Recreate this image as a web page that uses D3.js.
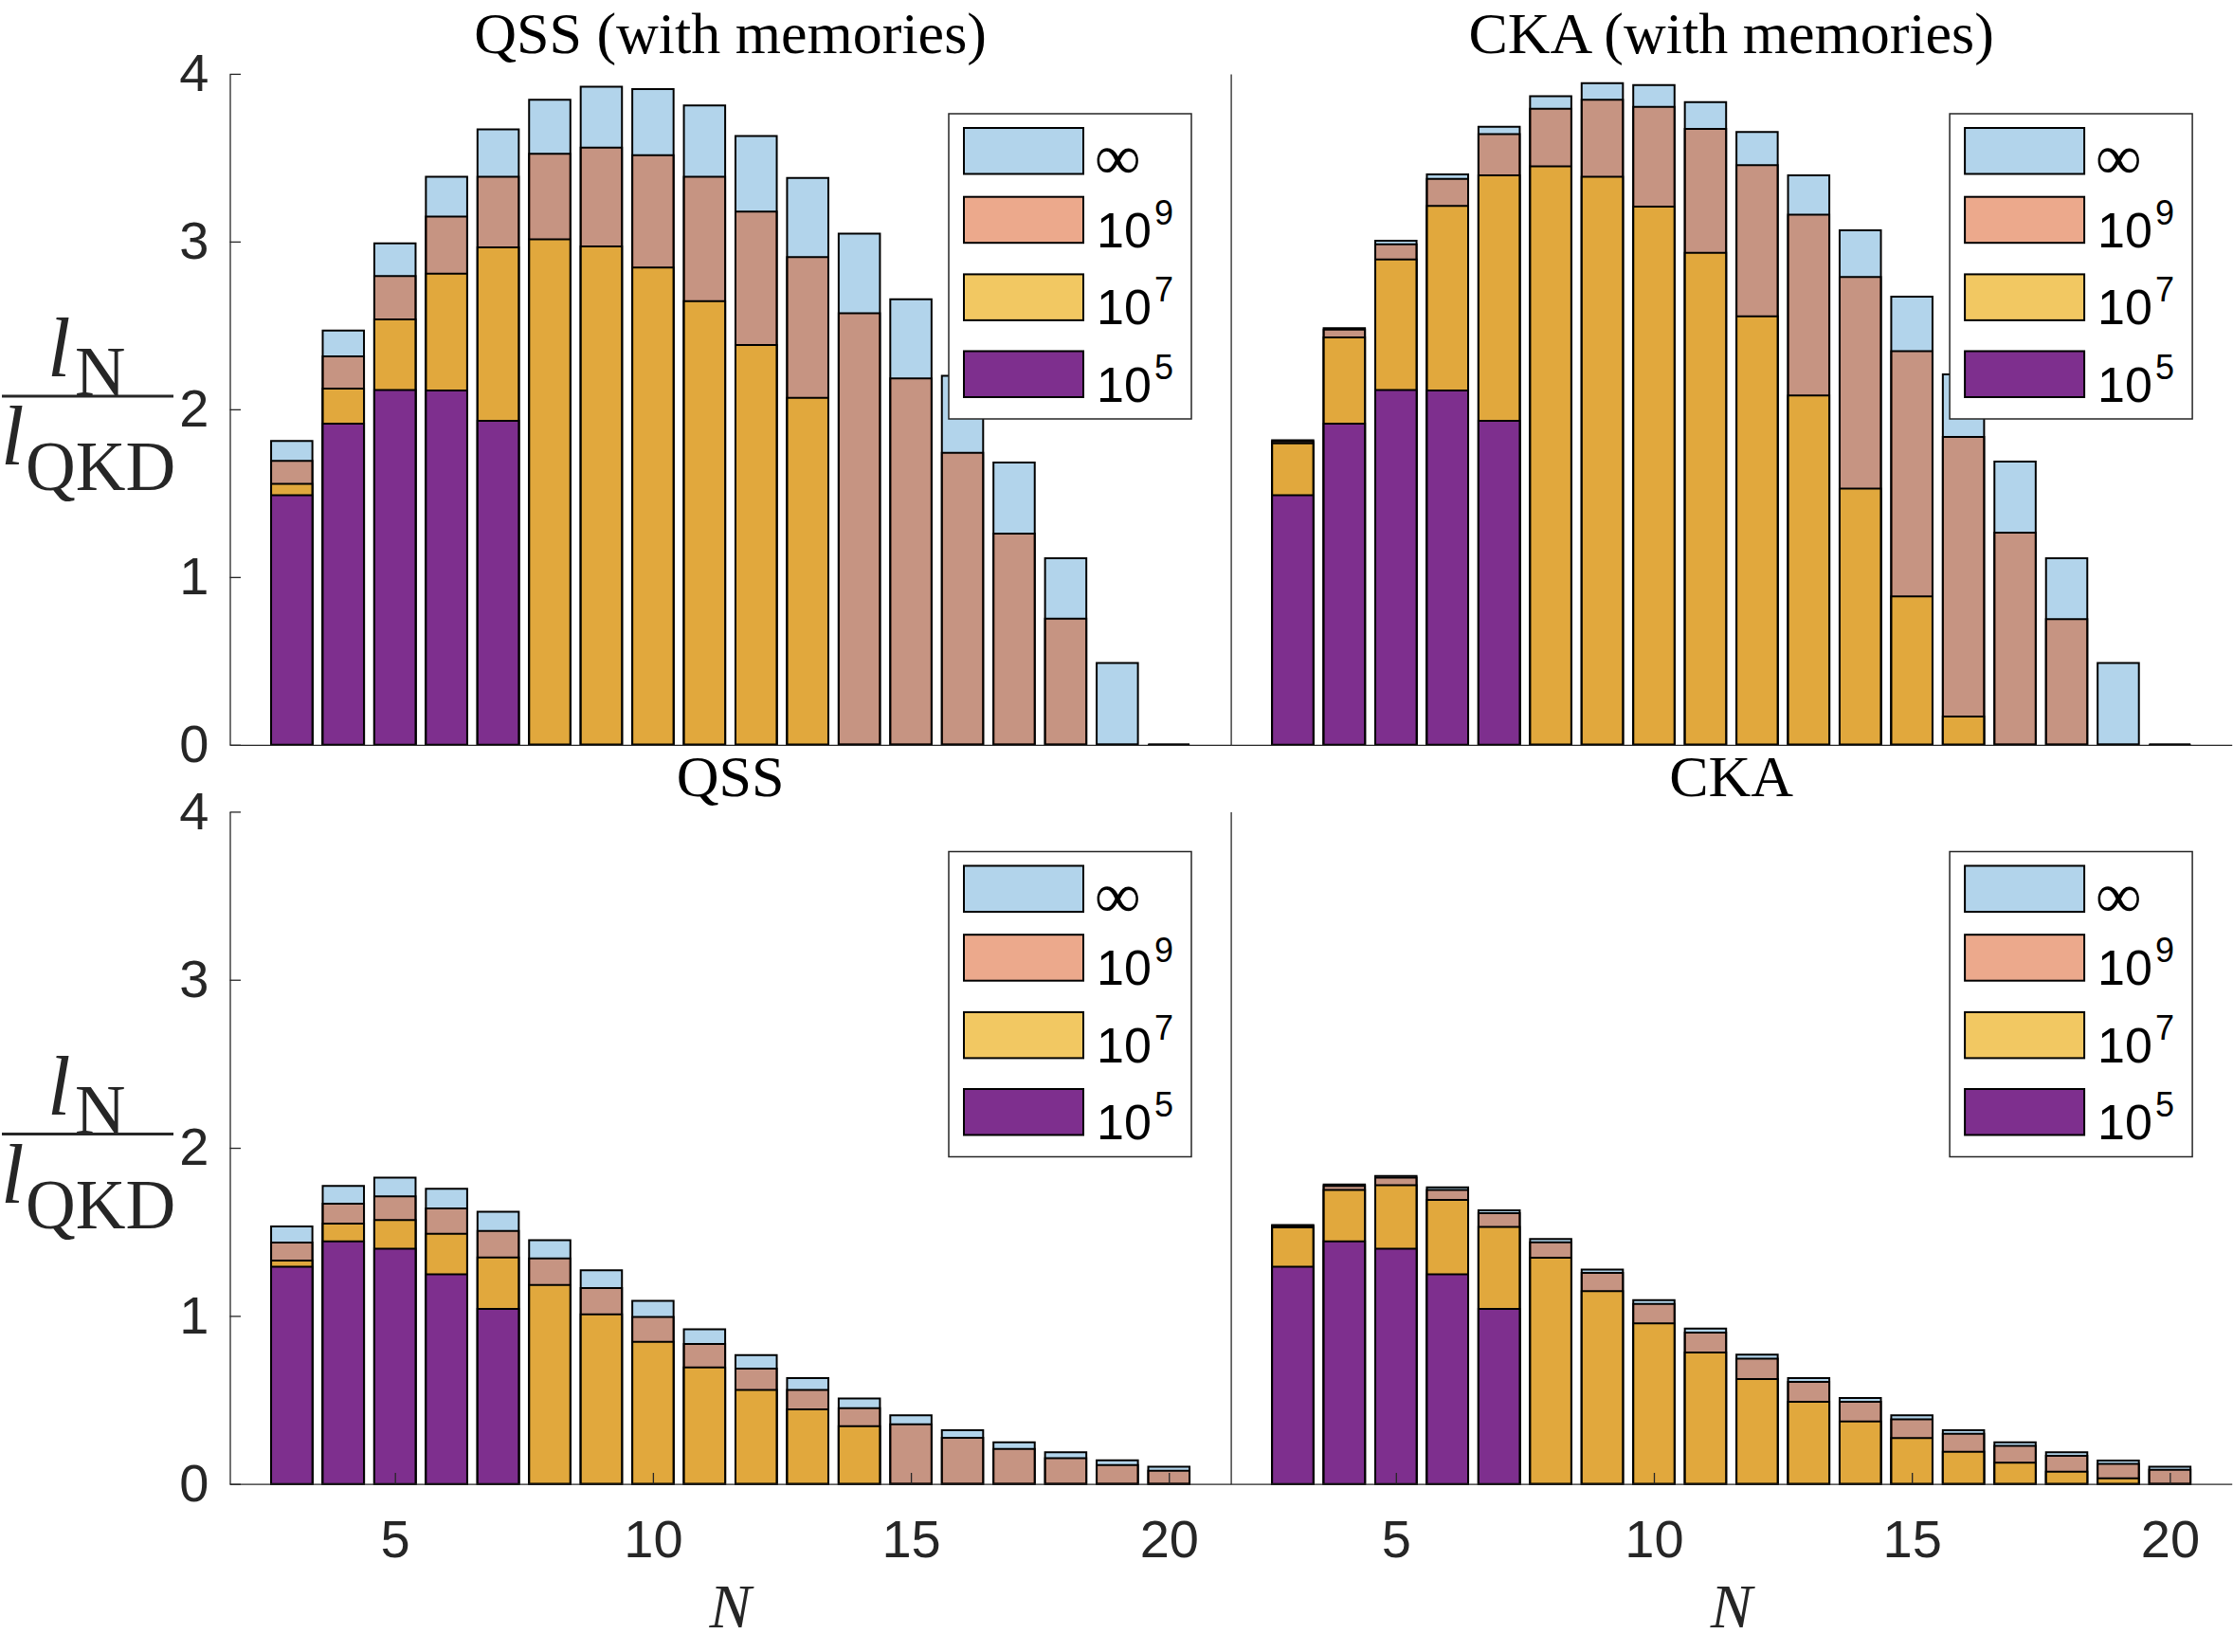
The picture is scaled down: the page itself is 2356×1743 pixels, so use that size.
<!DOCTYPE html>
<html><head><meta charset="utf-8">
<script src="https://cdn.jsdelivr.net/npm/d3@7"></script>
<style>body{margin:0;background:#fff}</style>
</head><body>
<svg id="c" width="2356" height="1743" xmlns="http://www.w3.org/2000/svg"></svg>
<script>
// ---------- data ----------
const nValues = [3,4,5,6,7,8,9,10,11,12,13,14,15,16,17,18,19,20];
const seriesLabels = ["∞", "10^9", "10^7", "10^5"];
const yTicks = [0,1,2,3,4];
const xTicks = [5,10,15,20];
const titles = ["QSS (with memories)", "CKA (with memories)", "QSS", "CKA"];

// QSS (with memories)
const qssMemInf = [1.811,2.469,2.989,3.387,3.669,3.845,3.923,3.909,3.811,3.629,3.379,3.048,2.656,2.200,1.683,1.112,0.488,0];
const qssMem1e9 = [1.693,2.315,2.795,3.149,3.387,3.523,3.560,3.515,3.387,3.179,2.907,2.573,2.184,1.741,1.259,0.752,0,0];
const qssMem1e7 = [1.555,2.123,2.536,2.808,2.965,3.013,2.971,2.845,2.645,2.384,2.069,0,0,0,0,0,0,0];
const qssMem1e5 = [1.488,1.915,2.115,2.112,1.931,0,0,0,0,0,0,0,0,0,0,0,0,0];
// CKA (with memories)
const ckaMemInf = [1.816,2.483,3.005,3.400,3.685,3.867,3.944,3.933,3.832,3.653,3.395,3.067,2.672,2.208,1.688,1.112,0.488,0];
const ckaMem1e9 = [1.808,2.475,2.984,3.373,3.640,3.792,3.845,3.803,3.672,3.456,3.160,2.789,2.347,1.835,1.264,0.749,0,0];
const ckaMem1e7 = [1.797,2.429,2.893,3.213,3.395,3.448,3.387,3.208,2.933,2.555,2.083,1.528,0.885,0.168,0,0,0,0];
const ckaMem1e5 = [1.488,1.915,2.115,2.112,1.931,0,0,0,0,0,0,0,0,0,0,0,0,0];
// QSS
const qssInf = [1.532,1.773,1.823,1.756,1.620,1.451,1.271,1.090,0.921,0.767,0.630,0.509,0.408,0.320,0.248,0.188,0.141,0.102];
const qss1e9 = [1.436,1.667,1.711,1.639,1.506,1.342,1.165,0.994,0.833,0.687,0.560,0.451,0.355,0.274,0.209,0.154,0.113,0.079];
const qss1e7 = [1.329,1.549,1.570,1.489,1.348,1.184,1.009,0.846,0.694,0.560,0.444,0.344,0,0,0,0,0,0];
const qss1e5 = [1.293,1.444,1.400,1.248,1.041,0,0,0,0,0,0,0,0,0,0,0,0,0];
// CKA
const ckaInf = [1.541,1.782,1.833,1.765,1.628,1.457,1.276,1.094,0.925,0.769,0.630,0.511,0.408,0.320,0.248,0.188,0.139,0.102];
const cka1e9 = [1.536,1.773,1.823,1.750,1.611,1.438,1.256,1.071,0.900,0.746,0.607,0.489,0.385,0.299,0.226,0.167,0.120,0.085];
const cka1e7 = [1.526,1.750,1.778,1.690,1.530,1.346,1.148,0.955,0.782,0.624,0.489,0.372,0.273,0.192,0.126,0.073,0.034,0];
const cka1e5 = [1.293,1.444,1.400,1.248,1.041,0,0,0,0,0,0,0,0,0,0,0,0,0];

// ---------- styles ----------
const baseColors = ["rgb(0,114,189)", "rgb(217,83,25)", "rgb(237,177,32)", "rgb(126,47,142)"];
const alphas = [0.3, 0.5, 0.7, 1.0];
const axisColor = "#262626";

const svg = d3.select("#c");

const panels = [
  {x0:242.5, x1:1298.6, yb:785.8, yt:77.9, left:true,  bottom:false, titleY:56,  title:titles[0], series:[qssMemInf,qssMem1e9,qssMem1e7,qssMem1e5]},
  {x0:1298.6, x1:2354.7, yb:785.8, yt:77.9, left:false, bottom:false, titleY:56,  title:titles[1], series:[ckaMemInf,ckaMem1e9,ckaMem1e7,ckaMem1e5]},
  {x0:242.5, x1:1298.6, yb:1565.7, yt:856.4, left:true,  bottom:true, titleY:840, title:titles[2], series:[qssInf,qss1e9,qss1e7,qss1e5]},
  {x0:1298.6, x1:2354.7, yb:1565.7, yt:856.4, left:false, bottom:true, titleY:840, title:titles[3], series:[ckaInf,cka1e9,cka1e7,cka1e5]}
];

function styleAxis(g) {
  g.attr("font-family", "'Liberation Sans', Arial, Helvetica, sans-serif").attr("font-size", 56);
  g.selectAll(".domain").attr("stroke", axisColor).attr("stroke-width", 1.3);
  g.selectAll(".tick line").attr("stroke", axisColor).attr("stroke-width", 1.3);
  g.selectAll(".tick text").attr("fill", axisColor);
}

panels.forEach(p => {
  const x = d3.scaleLinear().domain([1.8, 21.2]).range([p.x0, p.x1]);
  const y = d3.scaleLinear().domain([0, 4]).range([p.yb, p.yt]);
  const g = svg.append("g");
  const half = 0.4;

  p.series.forEach((vals, si) => {
    g.append("g").selectAll("path")
      .data(nValues.map((n, i) => ({n, v: vals[i]})))
      .join("path")
      .attr("d", d => {
        const xl = x(d.n - half), xr = x(d.n + half), y0 = y(0), y1 = y(d.v);
        return `M${xl},${y0}V${y1}H${xr}V${y0}Z`;
      })
      .attr("fill", baseColors[si])
      .attr("fill-opacity", alphas[si])
      .attr("stroke", "#000")
      .attr("stroke-width", 2);
  });

  // axes
  const yAxis = p.left
    ? d3.axisLeft(y).tickValues(yTicks).tickSize(-11.5).tickSizeOuter(0).tickPadding(22).tickFormat(d3.format("d"))
    : d3.axisLeft(y).tickValues([]).tickSizeOuter(0);
  g.append("g").attr("transform", `translate(${p.x0},0)`).call(yAxis).call(styleAxis);

  const xAxis = p.bottom
    ? d3.axisBottom(x).tickValues(xTicks).tickSize(-11.7).tickSizeOuter(0).tickPadding(38).tickFormat(d3.format("d"))
    : d3.axisBottom(x).tickValues([]).tickSizeOuter(0);
  g.append("g").attr("transform", `translate(0,${p.yb})`).call(xAxis).call(styleAxis);

  // title
  svg.append("text")
    .attr("x", (p.x0 + p.x1) / 2).attr("y", p.titleY)
    .attr("text-anchor", "middle")
    .attr("font-family", "'Liberation Serif', 'Times New Roman', serif")
    .attr("font-size", 62).attr("fill", "#000")
    .text(p.title);

  // x label
  if (p.bottom) {
    svg.append("text")
      .attr("x", (p.x0 + p.x1) / 2).attr("y", p.yb + 151)
      .attr("text-anchor", "middle")
      .attr("font-family", "'Liberation Serif', 'Times New Roman', serif")
      .attr("font-style", "italic")
      .attr("font-size", 66).attr("fill", axisColor)
      .text("N");
  }

  // y label (fraction)
  if (p.left) {
    const L = p.yt + 340.1;
    const yl = svg.append("g").attr("fill", axisColor)
      .attr("font-family", "'Liberation Serif', 'Times New Roman', serif");
    yl.append("line").attr("x1", 2).attr("x2", 183).attr("y1", L).attr("y2", L)
      .attr("stroke", axisColor).attr("stroke-width", 3);
    yl.append("text").attr("x", 50).attr("y", L - 21).attr("font-size", 88).attr("font-style", "italic").text("l");
    yl.append("text").attr("x", 79).attr("y", L - 1).attr("font-size", 74).text("N");
    yl.append("text").attr("x", 1).attr("y", L + 72).attr("font-size", 88).attr("font-style", "italic").text("l");
    yl.append("text").attr("x", 27).attr("y", L + 99).attr("font-size", 73).text("QKD");
  }

  // legend
  const bx = p.x1 - 297.6, by = p.yt + 42.1;
  const lg = svg.append("g");
  lg.append("rect").attr("x", bx).attr("y", by).attr("width", 256).attr("height", 322)
    .attr("fill", "#fff").attr("stroke", axisColor).attr("stroke-width", 1.5);
  const rowTops = [15, 87.7, 169.4, 250.5];
  seriesLabels.forEach((lab, si) => {
    const ty = by + rowTops[si];
    lg.append("rect").attr("x", bx + 16).attr("y", ty).attr("width", 126).attr("height", 48.5)
      .attr("fill", baseColors[si]).attr("fill-opacity", alphas[si])
      .attr("stroke", "#000").attr("stroke-width", 2);
    if (lab === "∞") {
      lg.append("text").attr("x", bx + 154).attr("y", ty + 54)
        .attr("font-family", "'Liberation Serif', 'Times New Roman', serif")
        .attr("font-size", 68).attr("fill", "#000").text("∞");
    } else {
      const parts = lab.split("^");
      lg.append("text").attr("x", bx + 156).attr("y", ty + 53)
        .attr("font-family", "'Liberation Sans', Arial, sans-serif")
        .attr("font-size", 52).attr("fill", "#000").text(parts[0]);
      lg.append("text").attr("x", bx + 217).attr("y", ty + 29)
        .attr("font-family", "'Liberation Sans', Arial, sans-serif")
        .attr("font-size", 36).attr("fill", "#000").text(parts[1]);
    }
  });
});
</script>
</body></html>
